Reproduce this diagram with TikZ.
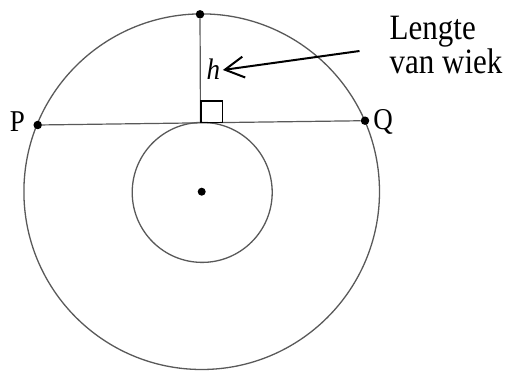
\documentclass[tikz,border=0pt]{standalone}
\usepackage{fontspec}
\setmainfont{Liberation Serif}
\usetikzlibrary{arrows.meta}
\begin{document}
\begin{tikzpicture}[x=1pt,y=-1pt,
  circ/.style={draw=black!65, line width=1.3pt},
  dot/.style={circle, fill=black, inner sep=0pt, minimum size=8.5pt},
  lbl/.style={inner sep=0pt, font=\fontsize{27}{32}\selectfont},
  note/.style={inner sep=0pt, font=\fontsize{31}{35}\selectfont}]
\useasboundingbox (0,0) rectangle (508,371);
\coordinate (O) at (201.7,191.7);
\draw[circ] (O) circle[radius=177.8];
\draw[circ] (202.2,192.4) circle[radius=70];
\node[dot] (T) at (200,14.3) {};
\node[dot] (P) at (37.7,125) {};
\node[dot] (Q) at (365,120.7) {};
\node[dot, minimum size=8pt] (C) at (O) {};
\coordinate (F) at (200.5,122.4);
\draw[circ, line width=1.2pt] (P) -- (Q);
\draw[circ, line width=1.2pt] (T) -- (F);
\draw[black, line width=1.2pt] (201,122.4) rectangle (222.5,101);
\node[lbl, anchor=base] (Pl) at (17.5,132) {\scalebox{1}[1.12]{P}};
\node[lbl, anchor=base] (Ql) at (383,130) {\scalebox{1}[1.12]{Q}};
\node[lbl, anchor=base west] (h) at (206.5,79.3) {\scalebox{1}[1.1]{\textit{h}}};
\node[note, anchor=base west] (L1) at (389.5,39.3) {\scalebox{1}[1.15]{Lengte}};
\node[note, anchor=base west] (L2) at (389.5,74) {\scalebox{1}[1.15]{van wiek}};
\coordinate (A) at (359.5,51);
\draw[line width=2pt, -{Straight Barb[length=19pt,width=21pt,line width=2pt]}] (A) -- ([xshift=2.5pt,yshift=-1pt]h.east);
\end{tikzpicture}
\end{document}
